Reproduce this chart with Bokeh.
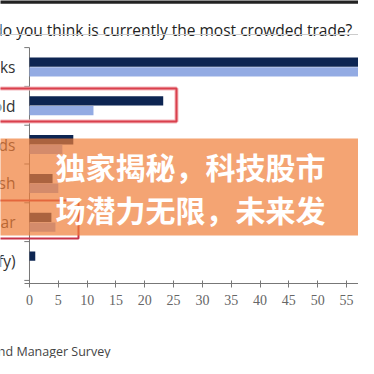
from bokeh.plotting import figure
from bokeh.layouts import column
from bokeh.models import Range1d, LinearAxis, FixedTicker
from bokeh.core.properties import value
from bokeh.embed import file_html
from bokeh.resources import INLINE

# ---- data ----
categories = ["Long US tech stocks", "Long gold", "Long bonds", "Long cash",
              "Long US dollar", "Other (please specify)"]
current = [59.1, 23.2, 7.6, 4.0, 3.8, 1.0]
previous = [62.0, 11.1, 5.7, 5.0, 4.5, 0.0]
x_ticks = [0, 5, 10, 15, 20, 25, 30, 35, 40, 45, 50, 55, 60]
title_text = "Chart 3: What do you think is currently the most crowded trade?"
source_text = "Source: BofA Global Fund Manager Survey"
banner_lines = ["独家揭秘，科技股市", "场潜力无限，未来发"]

rows = list(range(len(categories)))

W = 358
H_MAIN = 330
H_SRC = 28

p = figure(width=W, height=H_MAIN, output_backend="svg", toolbar_location=None,
           x_range=Range1d(-5.031, 57.08), y_range=Range1d(5.58, -1.714),
           min_border_left=0, min_border_right=0, min_border_top=0,
           min_border_bottom=H_MAIN - 283, x_axis_type=None, y_axis_type=None)
p.outline_line_color = None
p.xgrid.visible = False
p.ygrid.visible = False
p.background_fill_color = "white"
p.border_fill_color = "white"

# x axis
xa = LinearAxis(ticker=FixedTicker(ticks=x_ticks), bounds=(-0.9, 62))
xa.axis_line_color = "#777777"
xa.major_tick_line_color = "#777777"
xa.minor_tick_line_color = None
xa.major_tick_in = 3
xa.major_tick_out = 4
xa.major_label_standoff = 7
xa.major_label_text_font = "Liberation Sans Narrow"
xa.major_label_text_font_size = "14px"
xa.major_label_text_color = "#666666"
p.add_layout(xa, "below")

# top rule
p.quad(left=[-6], right=[65], top=[-1.76], bottom=[-1.63], fill_color="#222222",
       line_color=None)

# y axis line and ticks
p.segment(x0=[0], y0=[-0.5], x1=[0], y1=[5.58], line_color="#777777", line_width=1)
edges = [r - 0.5 for r in rows] + [len(rows) - 0.5]
p.segment(x0=[-0.9] * len(edges), y0=edges, x1=[0] * len(edges), y1=edges,
          line_color="#777777", line_width=1)

# title and rule
p.text(x=[56.0], y=[-0.966], text=[title_text], text_align="right",
       text_baseline="alphabetic", text_font=value("Open Sans"),
       text_font_size="15.5px", text_color="#222222")
p.segment(x0=[-6], y0=[-0.838], x1=[65], y1=[-0.838], line_color="#cccccc", line_width=1)

# bars
p.hbar(y=[r - 0.125 for r in rows], right=current, left=0, height=0.24,
       fill_color="#0d2552", line_color=None)
p.hbar(y=[r + 0.125 for r in rows], right=previous, left=0, height=0.24,
       fill_color="#93abe3", line_color=None)

# category labels
p.text(x=[-2.43] * len(rows), y=rows, text=categories, text_align="right",
       text_baseline="middle", text_font=value("Open Sans"),
       text_font_size="15.5px", text_color="#333333")

# red highlight boxes
p.quad(left=[-6], right=[25.5], top=[0.554], bottom=[1.405], fill_color=None,
       line_color="#f4b8bd", line_width=4)
p.quad(left=[-6], right=[25.5], top=[0.554], bottom=[1.405], fill_color=None,
       line_color="#d9404d", line_width=2)
p.quad(left=[-6], right=[8.5], top=[3.44], bottom=[4.42], fill_color=None,
       line_color="#c8344a", line_width=2)

# orange banner overlay
p.quad(left=[-6], right=[65], top=[1.843], bottom=[4.343], fill_color="#ef7d38",
       fill_alpha=0.7, line_color=None)
p.text(x=[4.5, 4.5], y=[2.54, 3.66], text=banner_lines, text_align="left",
       text_baseline="middle", text_font=value("Noto Sans CJK SC"),
       text_font_style="bold", text_font_size="30px", text_color="white")

# source strip beneath the chart
s = figure(width=W, height=H_SRC, output_backend="svg", toolbar_location=None,
           x_range=Range1d(0, W), y_range=Range1d(0, H_SRC),
           min_border=0, x_axis_type=None, y_axis_type=None)
s.outline_line_color = None
s.xgrid.visible = False
s.ygrid.visible = False
s.text(x=[110], y=[7], text=[source_text], text_align="right",
       text_baseline="middle", text_font=value("Open Sans"),
       text_font_size="12.5px", text_color="#444444")

layout = column(p, s, spacing=0)
open("out.html", "w").write(file_html(layout, INLINE))
